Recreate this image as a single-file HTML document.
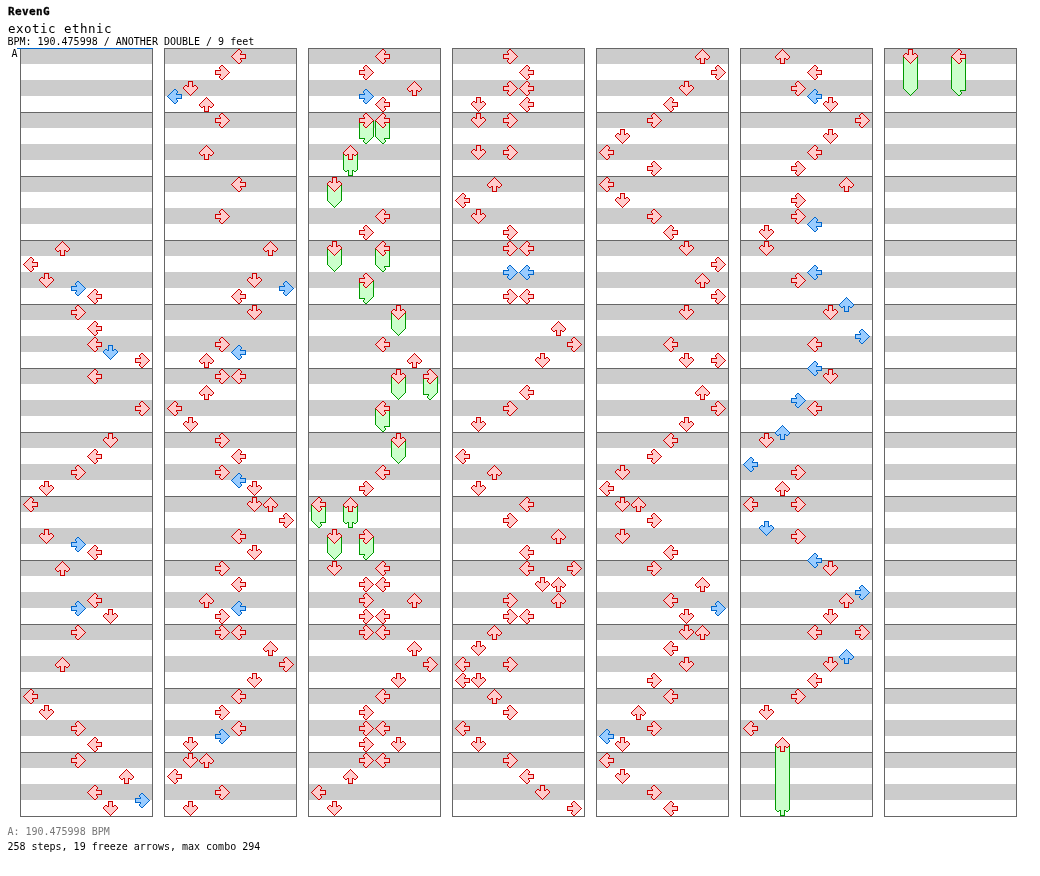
<!DOCTYPE html>
<html><head><meta charset="utf-8"><title>RevenG - exotic ethnic</title>
<style>
html,body{margin:0;padding:0;background:#fff;}
body{width:1040px;height:876px;position:relative;overflow:hidden;font-family:"DejaVu Sans Mono","Liberation Mono",monospace;color:#000;}
.t{position:absolute;white-space:pre;line-height:1;margin:0;font-size:10px;}
#t1{left:8px;top:6px;font-size:11px;font-weight:bold;letter-spacing:0.38px;-webkit-text-stroke:0.3px #000;}
#t2{left:8px;top:23px;font-size:12.5px;letter-spacing:0.475px;}
#t3{left:7.4px;top:37px;}
#t4{left:11.5px;top:49px;}
#t5{left:7.4px;top:827px;color:#777777;}
#t6{left:7.4px;top:842px;}
.col{position:absolute;top:48px;width:133px;height:769px;
background:
linear-gradient(90deg,#666 0,#666 1px,transparent 1px,transparent 132px,#666 132px,#666 133px),
repeating-linear-gradient(180deg,#666 0,#666 1px,transparent 1px,transparent 64px),
repeating-linear-gradient(180deg,#ccc 0,#ccc 16px,#fff 16px,#fff 32px);}
#bl{position:absolute;left:17px;top:48px;width:136px;height:1px;background:#06c;}
i{position:absolute;display:block;width:15px;height:15px;}
i::before{content:"";position:absolute;left:0;top:0;right:0;bottom:0;}
.r{background:#c00}.r::before{background:#fcc}
.b{background:#06c}.b::before{background:#9cf}
.g{background:#090}.g::before{background:#cfc}
.fb{background:#090}.fb::before{left:1px;right:1px;background:#cfc}
.L{clip-path:polygon(7px 0px,9px 0px,9px 1px,10px 1px,10px 2px,11px 2px,11px 4px,10px 4px,10px 5px,15px 5px,15px 10px,10px 10px,10px 11px,11px 11px,11px 13px,10px 13px,10px 14px,9px 14px,9px 15px,7px 15px,7px 14px,6px 14px,6px 13px,5px 13px,5px 12px,4px 12px,4px 11px,3px 11px,3px 10px,2px 10px,2px 9px,1px 9px,1px 8px,0px 8px,0px 7px,1px 7px,1px 6px,2px 6px,2px 5px,3px 5px,3px 4px,4px 4px,4px 3px,5px 3px,5px 2px,6px 2px,6px 1px,7px 1px)}.L::before{clip-path:polygon(7px 1px,9px 1px,9px 2px,10px 2px,10px 4px,9px 4px,9px 6px,14px 6px,14px 9px,9px 9px,9px 11px,10px 11px,10px 13px,9px 13px,9px 14px,7px 14px,7px 13px,6px 13px,6px 12px,5px 12px,5px 11px,4px 11px,4px 10px,3px 10px,3px 9px,2px 9px,2px 8px,1px 8px,1px 7px,2px 7px,2px 6px,3px 6px,3px 5px,4px 5px,4px 4px,5px 4px,5px 3px,6px 3px,6px 2px,7px 2px)}
.tL{clip-path:polygon(0px 7px,15px 7px,15px 10px,10px 10px,10px 11px,11px 11px,11px 13px,10px 13px,10px 14px,9px 14px,9px 15px,7px 15px,7px 14px,6px 14px,6px 13px,5px 13px,5px 12px,4px 12px,4px 11px,3px 11px,3px 10px,2px 10px,2px 9px,1px 9px,1px 8px,0px 8px)}.tL::before{clip-path:polygon(1px 7px,14px 7px,14px 9px,9px 9px,9px 11px,10px 11px,10px 13px,9px 13px,9px 14px,7px 14px,7px 13px,6px 13px,6px 12px,5px 12px,5px 11px,4px 11px,4px 10px,3px 10px,3px 9px,2px 9px,2px 8px,1px 8px)}
.R{clip-path:polygon(6px 0px,8px 0px,8px 1px,9px 1px,9px 2px,10px 2px,10px 3px,11px 3px,11px 4px,12px 4px,12px 5px,13px 5px,13px 6px,14px 6px,14px 7px,15px 7px,15px 8px,14px 8px,14px 9px,13px 9px,13px 10px,12px 10px,12px 11px,11px 11px,11px 12px,10px 12px,10px 13px,9px 13px,9px 14px,8px 14px,8px 15px,6px 15px,6px 14px,5px 14px,5px 13px,4px 13px,4px 11px,5px 11px,5px 10px,0px 10px,0px 5px,5px 5px,5px 4px,4px 4px,4px 2px,5px 2px,5px 1px,6px 1px)}.R::before{clip-path:polygon(6px 1px,8px 1px,8px 2px,9px 2px,9px 3px,10px 3px,10px 4px,11px 4px,11px 5px,12px 5px,12px 6px,13px 6px,13px 7px,14px 7px,14px 8px,13px 8px,13px 9px,12px 9px,12px 10px,11px 10px,11px 11px,10px 11px,10px 12px,9px 12px,9px 13px,8px 13px,8px 14px,6px 14px,6px 13px,5px 13px,5px 11px,6px 11px,6px 9px,1px 9px,1px 6px,6px 6px,6px 4px,5px 4px,5px 2px,6px 2px)}
.tR{clip-path:polygon(0px 7px,15px 7px,15px 8px,14px 8px,14px 9px,13px 9px,13px 10px,12px 10px,12px 11px,11px 11px,11px 12px,10px 12px,10px 13px,9px 13px,9px 14px,8px 14px,8px 15px,6px 15px,6px 14px,5px 14px,5px 13px,4px 13px,4px 11px,5px 11px,5px 10px,0px 10px)}.tR::before{clip-path:polygon(1px 7px,14px 7px,14px 8px,13px 8px,13px 9px,12px 9px,12px 10px,11px 10px,11px 11px,10px 11px,10px 12px,9px 12px,9px 13px,8px 13px,8px 14px,6px 14px,6px 13px,5px 13px,5px 11px,6px 11px,6px 9px,1px 9px)}
.U{clip-path:polygon(7px 0px,8px 0px,8px 1px,9px 1px,9px 2px,10px 2px,10px 3px,11px 3px,11px 4px,12px 4px,12px 5px,13px 5px,13px 6px,14px 6px,14px 7px,15px 7px,15px 9px,14px 9px,14px 10px,13px 10px,13px 11px,11px 11px,11px 10px,10px 10px,10px 15px,5px 15px,5px 10px,4px 10px,4px 11px,2px 11px,2px 10px,1px 10px,1px 9px,0px 9px,0px 7px,1px 7px,1px 6px,2px 6px,2px 5px,3px 5px,3px 4px,4px 4px,4px 3px,5px 3px,5px 2px,6px 2px,6px 1px,7px 1px)}.U::before{clip-path:polygon(7px 1px,8px 1px,8px 2px,9px 2px,9px 3px,10px 3px,10px 4px,11px 4px,11px 5px,12px 5px,12px 6px,13px 6px,13px 7px,14px 7px,14px 9px,13px 9px,13px 10px,11px 10px,11px 9px,9px 9px,9px 14px,6px 14px,6px 9px,4px 9px,4px 10px,2px 10px,2px 9px,1px 9px,1px 7px,2px 7px,2px 6px,3px 6px,3px 5px,4px 5px,4px 4px,5px 4px,5px 3px,6px 3px,6px 2px,7px 2px)}
.tU{clip-path:polygon(0px 7px,15px 7px,15px 9px,14px 9px,14px 10px,13px 10px,13px 11px,11px 11px,11px 10px,10px 10px,10px 15px,5px 15px,5px 10px,4px 10px,4px 11px,2px 11px,2px 10px,1px 10px,1px 9px,0px 9px)}.tU::before{clip-path:polygon(1px 7px,14px 7px,14px 9px,13px 9px,13px 10px,11px 10px,11px 9px,9px 9px,9px 14px,6px 14px,6px 9px,4px 9px,4px 10px,2px 10px,2px 9px,1px 9px)}
.D{clip-path:polygon(5px 0px,10px 0px,10px 5px,11px 5px,11px 4px,13px 4px,13px 5px,14px 5px,14px 6px,15px 6px,15px 8px,14px 8px,14px 9px,13px 9px,13px 10px,12px 10px,12px 11px,11px 11px,11px 12px,10px 12px,10px 13px,9px 13px,9px 14px,8px 14px,8px 15px,7px 15px,7px 14px,6px 14px,6px 13px,5px 13px,5px 12px,4px 12px,4px 11px,3px 11px,3px 10px,2px 10px,2px 9px,1px 9px,1px 8px,0px 8px,0px 6px,1px 6px,1px 5px,2px 5px,2px 4px,4px 4px,4px 5px,5px 5px)}.D::before{clip-path:polygon(6px 1px,9px 1px,9px 6px,11px 6px,11px 5px,13px 5px,13px 6px,14px 6px,14px 8px,13px 8px,13px 9px,12px 9px,12px 10px,11px 10px,11px 11px,10px 11px,10px 12px,9px 12px,9px 13px,8px 13px,8px 14px,7px 14px,7px 13px,6px 13px,6px 12px,5px 12px,5px 11px,4px 11px,4px 10px,3px 10px,3px 9px,2px 9px,2px 8px,1px 8px,1px 6px,2px 6px,2px 5px,4px 5px,4px 6px,6px 6px)}
.tD{clip-path:polygon(0px 7px,15px 7px,15px 8px,14px 8px,14px 9px,13px 9px,13px 10px,12px 10px,12px 11px,11px 11px,11px 12px,10px 12px,10px 13px,9px 13px,9px 14px,8px 14px,8px 15px,7px 15px,7px 14px,6px 14px,6px 13px,5px 13px,5px 12px,4px 12px,4px 11px,3px 11px,3px 10px,2px 10px,2px 9px,1px 9px,1px 8px,0px 8px)}.tD::before{clip-path:polygon(1px 7px,14px 7px,14px 8px,13px 8px,13px 9px,12px 9px,12px 10px,11px 10px,11px 11px,10px 11px,10px 12px,9px 12px,9px 13px,8px 13px,8px 14px,7px 14px,7px 13px,6px 13px,6px 12px,5px 12px,5px 11px,4px 11px,4px 10px,3px 10px,3px 9px,2px 9px,2px 8px,1px 8px)}
</style></head><body>
<div class="t" id="t1">RevenG</div>
<div class="t" id="t2">exotic ethnic</div>
<div class="t" id="t3">BPM: 190.475998 / ANOTHER DOUBLE / 9 feet</div>
<div class="t" id="t4">A</div>
<div class="col" style="left:20px">
<i class="r U" style="left:35px;top:193px"></i>
<i class="r L" style="left:3px;top:209px"></i>
<i class="r D" style="left:19px;top:225px"></i>
<i class="b R" style="left:51px;top:233px"></i>
<i class="r L" style="left:67px;top:241px"></i>
<i class="r R" style="left:51px;top:257px"></i>
<i class="r L" style="left:67px;top:273px"></i>
<i class="r L" style="left:67px;top:289px"></i>
<i class="b D" style="left:83px;top:297px"></i>
<i class="r R" style="left:115px;top:305px"></i>
<i class="r L" style="left:67px;top:321px"></i>
<i class="r R" style="left:115px;top:353px"></i>
<i class="r D" style="left:83px;top:385px"></i>
<i class="r L" style="left:67px;top:401px"></i>
<i class="r R" style="left:51px;top:417px"></i>
<i class="r D" style="left:19px;top:433px"></i>
<i class="r L" style="left:3px;top:449px"></i>
<i class="r D" style="left:19px;top:481px"></i>
<i class="b R" style="left:51px;top:489px"></i>
<i class="r L" style="left:67px;top:497px"></i>
<i class="r U" style="left:35px;top:513px"></i>
<i class="r L" style="left:67px;top:545px"></i>
<i class="b R" style="left:51px;top:553px"></i>
<i class="r D" style="left:83px;top:561px"></i>
<i class="r R" style="left:51px;top:577px"></i>
<i class="r U" style="left:35px;top:609px"></i>
<i class="r L" style="left:3px;top:641px"></i>
<i class="r D" style="left:19px;top:657px"></i>
<i class="r R" style="left:51px;top:673px"></i>
<i class="r L" style="left:67px;top:689px"></i>
<i class="r R" style="left:51px;top:705px"></i>
<i class="r U" style="left:99px;top:721px"></i>
<i class="r L" style="left:67px;top:737px"></i>
<i class="b R" style="left:115px;top:745px"></i>
<i class="r D" style="left:83px;top:753px"></i>
</div>
<div class="col" style="left:164px">
<i class="r L" style="left:67px;top:1px"></i>
<i class="r R" style="left:51px;top:17px"></i>
<i class="r D" style="left:19px;top:33px"></i>
<i class="b L" style="left:3px;top:41px"></i>
<i class="r U" style="left:35px;top:49px"></i>
<i class="r R" style="left:51px;top:65px"></i>
<i class="r U" style="left:35px;top:97px"></i>
<i class="r L" style="left:67px;top:129px"></i>
<i class="r R" style="left:51px;top:161px"></i>
<i class="r U" style="left:99px;top:193px"></i>
<i class="r D" style="left:83px;top:225px"></i>
<i class="b R" style="left:115px;top:233px"></i>
<i class="r L" style="left:67px;top:241px"></i>
<i class="r D" style="left:83px;top:257px"></i>
<i class="r R" style="left:51px;top:289px"></i>
<i class="b L" style="left:67px;top:297px"></i>
<i class="r U" style="left:35px;top:305px"></i>
<i class="r R" style="left:51px;top:321px"></i>
<i class="r L" style="left:67px;top:321px"></i>
<i class="r U" style="left:35px;top:337px"></i>
<i class="r L" style="left:3px;top:353px"></i>
<i class="r D" style="left:19px;top:369px"></i>
<i class="r R" style="left:51px;top:385px"></i>
<i class="r L" style="left:67px;top:401px"></i>
<i class="r R" style="left:51px;top:417px"></i>
<i class="b L" style="left:67px;top:425px"></i>
<i class="r D" style="left:83px;top:433px"></i>
<i class="r D" style="left:83px;top:449px"></i>
<i class="r U" style="left:99px;top:449px"></i>
<i class="r R" style="left:115px;top:465px"></i>
<i class="r L" style="left:67px;top:481px"></i>
<i class="r D" style="left:83px;top:497px"></i>
<i class="r R" style="left:51px;top:513px"></i>
<i class="r L" style="left:67px;top:529px"></i>
<i class="r U" style="left:35px;top:545px"></i>
<i class="b L" style="left:67px;top:553px"></i>
<i class="r R" style="left:51px;top:561px"></i>
<i class="r R" style="left:51px;top:577px"></i>
<i class="r L" style="left:67px;top:577px"></i>
<i class="r U" style="left:99px;top:593px"></i>
<i class="r R" style="left:115px;top:609px"></i>
<i class="r D" style="left:83px;top:625px"></i>
<i class="r L" style="left:67px;top:641px"></i>
<i class="r R" style="left:51px;top:657px"></i>
<i class="r L" style="left:67px;top:673px"></i>
<i class="b R" style="left:51px;top:681px"></i>
<i class="r D" style="left:19px;top:689px"></i>
<i class="r D" style="left:19px;top:705px"></i>
<i class="r U" style="left:35px;top:705px"></i>
<i class="r L" style="left:3px;top:721px"></i>
<i class="r R" style="left:51px;top:737px"></i>
<i class="r D" style="left:19px;top:753px"></i>
</div>
<div class="col" style="left:308px">
<i class="fb" style="left:51px;top:72px;height:16px"></i>
<i class="g tR" style="left:51px;top:81px"></i>
<i class="r R" style="left:51px;top:65px"></i>
<i class="fb" style="left:67px;top:72px;height:16px"></i>
<i class="g tL" style="left:67px;top:81px"></i>
<i class="r L" style="left:67px;top:65px"></i>
<i class="fb" style="left:35px;top:104px;height:16px"></i>
<i class="g tU" style="left:35px;top:113px"></i>
<i class="r U" style="left:35px;top:97px"></i>
<i class="fb" style="left:19px;top:136px;height:16px"></i>
<i class="g tD" style="left:19px;top:145px"></i>
<i class="r D" style="left:19px;top:129px"></i>
<i class="fb" style="left:19px;top:200px;height:16px"></i>
<i class="g tD" style="left:19px;top:209px"></i>
<i class="r D" style="left:19px;top:193px"></i>
<i class="fb" style="left:67px;top:200px;height:16px"></i>
<i class="g tL" style="left:67px;top:209px"></i>
<i class="r L" style="left:67px;top:193px"></i>
<i class="fb" style="left:51px;top:232px;height:16px"></i>
<i class="g tR" style="left:51px;top:241px"></i>
<i class="r R" style="left:51px;top:225px"></i>
<i class="fb" style="left:83px;top:264px;height:16px"></i>
<i class="g tD" style="left:83px;top:273px"></i>
<i class="r D" style="left:83px;top:257px"></i>
<i class="fb" style="left:83px;top:328px;height:16px"></i>
<i class="g tD" style="left:83px;top:337px"></i>
<i class="r D" style="left:83px;top:321px"></i>
<i class="fb" style="left:115px;top:328px;height:16px"></i>
<i class="g tR" style="left:115px;top:337px"></i>
<i class="r R" style="left:115px;top:321px"></i>
<i class="fb" style="left:67px;top:360px;height:16px"></i>
<i class="g tL" style="left:67px;top:369px"></i>
<i class="r L" style="left:67px;top:353px"></i>
<i class="fb" style="left:83px;top:392px;height:16px"></i>
<i class="g tD" style="left:83px;top:401px"></i>
<i class="r D" style="left:83px;top:385px"></i>
<i class="fb" style="left:3px;top:456px;height:16px"></i>
<i class="g tL" style="left:3px;top:465px"></i>
<i class="r L" style="left:3px;top:449px"></i>
<i class="fb" style="left:35px;top:456px;height:16px"></i>
<i class="g tU" style="left:35px;top:465px"></i>
<i class="r U" style="left:35px;top:449px"></i>
<i class="fb" style="left:19px;top:488px;height:16px"></i>
<i class="g tD" style="left:19px;top:497px"></i>
<i class="r D" style="left:19px;top:481px"></i>
<i class="fb" style="left:51px;top:488px;height:16px"></i>
<i class="g tR" style="left:51px;top:497px"></i>
<i class="r R" style="left:51px;top:481px"></i>
<i class="r L" style="left:67px;top:1px"></i>
<i class="r R" style="left:51px;top:17px"></i>
<i class="r U" style="left:99px;top:33px"></i>
<i class="b R" style="left:51px;top:41px"></i>
<i class="r L" style="left:67px;top:49px"></i>
<i class="r L" style="left:67px;top:161px"></i>
<i class="r R" style="left:51px;top:177px"></i>
<i class="r L" style="left:67px;top:289px"></i>
<i class="r U" style="left:99px;top:305px"></i>
<i class="r L" style="left:67px;top:417px"></i>
<i class="r R" style="left:51px;top:433px"></i>
<i class="r D" style="left:19px;top:513px"></i>
<i class="r L" style="left:67px;top:513px"></i>
<i class="r R" style="left:51px;top:529px"></i>
<i class="r L" style="left:67px;top:529px"></i>
<i class="r R" style="left:51px;top:545px"></i>
<i class="r U" style="left:99px;top:545px"></i>
<i class="r R" style="left:51px;top:561px"></i>
<i class="r L" style="left:67px;top:561px"></i>
<i class="r R" style="left:51px;top:577px"></i>
<i class="r L" style="left:67px;top:577px"></i>
<i class="r U" style="left:99px;top:593px"></i>
<i class="r R" style="left:115px;top:609px"></i>
<i class="r D" style="left:83px;top:625px"></i>
<i class="r L" style="left:67px;top:641px"></i>
<i class="r R" style="left:51px;top:657px"></i>
<i class="r R" style="left:51px;top:673px"></i>
<i class="r L" style="left:67px;top:673px"></i>
<i class="r R" style="left:51px;top:689px"></i>
<i class="r D" style="left:83px;top:689px"></i>
<i class="r R" style="left:51px;top:705px"></i>
<i class="r L" style="left:67px;top:705px"></i>
<i class="r U" style="left:35px;top:721px"></i>
<i class="r L" style="left:3px;top:737px"></i>
<i class="r D" style="left:19px;top:753px"></i>
</div>
<div class="col" style="left:452px">
<i class="r R" style="left:51px;top:1px"></i>
<i class="r L" style="left:67px;top:17px"></i>
<i class="r R" style="left:51px;top:33px"></i>
<i class="r L" style="left:67px;top:33px"></i>
<i class="r D" style="left:19px;top:49px"></i>
<i class="r L" style="left:67px;top:49px"></i>
<i class="r D" style="left:19px;top:65px"></i>
<i class="r R" style="left:51px;top:65px"></i>
<i class="r D" style="left:19px;top:97px"></i>
<i class="r R" style="left:51px;top:97px"></i>
<i class="r U" style="left:35px;top:129px"></i>
<i class="r L" style="left:3px;top:145px"></i>
<i class="r D" style="left:19px;top:161px"></i>
<i class="r R" style="left:51px;top:177px"></i>
<i class="r R" style="left:51px;top:193px"></i>
<i class="r L" style="left:67px;top:193px"></i>
<i class="b R" style="left:51px;top:217px"></i>
<i class="b L" style="left:67px;top:217px"></i>
<i class="r R" style="left:51px;top:241px"></i>
<i class="r L" style="left:67px;top:241px"></i>
<i class="r U" style="left:99px;top:273px"></i>
<i class="r R" style="left:115px;top:289px"></i>
<i class="r D" style="left:83px;top:305px"></i>
<i class="r L" style="left:67px;top:337px"></i>
<i class="r R" style="left:51px;top:353px"></i>
<i class="r D" style="left:19px;top:369px"></i>
<i class="r L" style="left:3px;top:401px"></i>
<i class="r U" style="left:35px;top:417px"></i>
<i class="r D" style="left:19px;top:433px"></i>
<i class="r L" style="left:67px;top:449px"></i>
<i class="r R" style="left:51px;top:465px"></i>
<i class="r U" style="left:99px;top:481px"></i>
<i class="r L" style="left:67px;top:497px"></i>
<i class="r L" style="left:67px;top:513px"></i>
<i class="r R" style="left:115px;top:513px"></i>
<i class="r D" style="left:83px;top:529px"></i>
<i class="r U" style="left:99px;top:529px"></i>
<i class="r R" style="left:51px;top:545px"></i>
<i class="r U" style="left:99px;top:545px"></i>
<i class="r R" style="left:51px;top:561px"></i>
<i class="r L" style="left:67px;top:561px"></i>
<i class="r U" style="left:35px;top:577px"></i>
<i class="r D" style="left:19px;top:593px"></i>
<i class="r L" style="left:3px;top:609px"></i>
<i class="r R" style="left:51px;top:609px"></i>
<i class="r L" style="left:3px;top:625px"></i>
<i class="r D" style="left:19px;top:625px"></i>
<i class="r U" style="left:35px;top:641px"></i>
<i class="r R" style="left:51px;top:657px"></i>
<i class="r L" style="left:3px;top:673px"></i>
<i class="r D" style="left:19px;top:689px"></i>
<i class="r R" style="left:51px;top:705px"></i>
<i class="r L" style="left:67px;top:721px"></i>
<i class="r D" style="left:83px;top:737px"></i>
<i class="r R" style="left:115px;top:753px"></i>
</div>
<div class="col" style="left:596px">
<i class="r U" style="left:99px;top:1px"></i>
<i class="r R" style="left:115px;top:17px"></i>
<i class="r D" style="left:83px;top:33px"></i>
<i class="r L" style="left:67px;top:49px"></i>
<i class="r R" style="left:51px;top:65px"></i>
<i class="r D" style="left:19px;top:81px"></i>
<i class="r L" style="left:3px;top:97px"></i>
<i class="r R" style="left:51px;top:113px"></i>
<i class="r L" style="left:3px;top:129px"></i>
<i class="r D" style="left:19px;top:145px"></i>
<i class="r R" style="left:51px;top:161px"></i>
<i class="r L" style="left:67px;top:177px"></i>
<i class="r D" style="left:83px;top:193px"></i>
<i class="r R" style="left:115px;top:209px"></i>
<i class="r U" style="left:99px;top:225px"></i>
<i class="r R" style="left:115px;top:241px"></i>
<i class="r D" style="left:83px;top:257px"></i>
<i class="r L" style="left:67px;top:289px"></i>
<i class="r D" style="left:83px;top:305px"></i>
<i class="r R" style="left:115px;top:305px"></i>
<i class="r U" style="left:99px;top:337px"></i>
<i class="r R" style="left:115px;top:353px"></i>
<i class="r D" style="left:83px;top:369px"></i>
<i class="r L" style="left:67px;top:385px"></i>
<i class="r R" style="left:51px;top:401px"></i>
<i class="r D" style="left:19px;top:417px"></i>
<i class="r L" style="left:3px;top:433px"></i>
<i class="r D" style="left:19px;top:449px"></i>
<i class="r U" style="left:35px;top:449px"></i>
<i class="r R" style="left:51px;top:465px"></i>
<i class="r D" style="left:19px;top:481px"></i>
<i class="r L" style="left:67px;top:497px"></i>
<i class="r R" style="left:51px;top:513px"></i>
<i class="r U" style="left:99px;top:529px"></i>
<i class="r L" style="left:67px;top:545px"></i>
<i class="b R" style="left:115px;top:553px"></i>
<i class="r D" style="left:83px;top:561px"></i>
<i class="r D" style="left:83px;top:577px"></i>
<i class="r U" style="left:99px;top:577px"></i>
<i class="r L" style="left:67px;top:593px"></i>
<i class="r D" style="left:83px;top:609px"></i>
<i class="r R" style="left:51px;top:625px"></i>
<i class="r L" style="left:67px;top:641px"></i>
<i class="r U" style="left:35px;top:657px"></i>
<i class="r R" style="left:51px;top:673px"></i>
<i class="b L" style="left:3px;top:681px"></i>
<i class="r D" style="left:19px;top:689px"></i>
<i class="r L" style="left:3px;top:705px"></i>
<i class="r D" style="left:19px;top:721px"></i>
<i class="r R" style="left:51px;top:737px"></i>
<i class="r L" style="left:67px;top:753px"></i>
</div>
<div class="col" style="left:740px">
<i class="fb" style="left:35px;top:696px;height:64px"></i>
<i class="g tU" style="left:35px;top:753px"></i>
<i class="r U" style="left:35px;top:689px"></i>
<i class="r U" style="left:35px;top:1px"></i>
<i class="r L" style="left:67px;top:17px"></i>
<i class="r R" style="left:51px;top:33px"></i>
<i class="b L" style="left:67px;top:41px"></i>
<i class="r D" style="left:83px;top:49px"></i>
<i class="r R" style="left:115px;top:65px"></i>
<i class="r D" style="left:83px;top:81px"></i>
<i class="r L" style="left:67px;top:97px"></i>
<i class="r R" style="left:51px;top:113px"></i>
<i class="r U" style="left:99px;top:129px"></i>
<i class="r R" style="left:51px;top:145px"></i>
<i class="r R" style="left:51px;top:161px"></i>
<i class="b L" style="left:67px;top:169px"></i>
<i class="r D" style="left:19px;top:177px"></i>
<i class="r D" style="left:19px;top:193px"></i>
<i class="b L" style="left:67px;top:217px"></i>
<i class="r R" style="left:51px;top:225px"></i>
<i class="b U" style="left:99px;top:249px"></i>
<i class="r D" style="left:83px;top:257px"></i>
<i class="b R" style="left:115px;top:281px"></i>
<i class="r L" style="left:67px;top:289px"></i>
<i class="b L" style="left:67px;top:313px"></i>
<i class="r D" style="left:83px;top:321px"></i>
<i class="b R" style="left:51px;top:345px"></i>
<i class="r L" style="left:67px;top:353px"></i>
<i class="b U" style="left:35px;top:377px"></i>
<i class="r D" style="left:19px;top:385px"></i>
<i class="b L" style="left:3px;top:409px"></i>
<i class="r R" style="left:51px;top:417px"></i>
<i class="r U" style="left:35px;top:433px"></i>
<i class="r L" style="left:3px;top:449px"></i>
<i class="r R" style="left:51px;top:449px"></i>
<i class="b D" style="left:19px;top:473px"></i>
<i class="r R" style="left:51px;top:481px"></i>
<i class="b L" style="left:67px;top:505px"></i>
<i class="r D" style="left:83px;top:513px"></i>
<i class="b R" style="left:115px;top:537px"></i>
<i class="r U" style="left:99px;top:545px"></i>
<i class="r D" style="left:83px;top:561px"></i>
<i class="r L" style="left:67px;top:577px"></i>
<i class="r R" style="left:115px;top:577px"></i>
<i class="b U" style="left:99px;top:601px"></i>
<i class="r D" style="left:83px;top:609px"></i>
<i class="r L" style="left:67px;top:625px"></i>
<i class="r R" style="left:51px;top:641px"></i>
<i class="r D" style="left:19px;top:657px"></i>
<i class="r L" style="left:3px;top:673px"></i>
</div>
<div class="col" style="left:884px">
<i class="fb" style="left:19px;top:8px;height:32px"></i>
<i class="g tD" style="left:19px;top:33px"></i>
<i class="r D" style="left:19px;top:1px"></i>
<i class="fb" style="left:67px;top:8px;height:32px"></i>
<i class="g tL" style="left:67px;top:33px"></i>
<i class="r L" style="left:67px;top:1px"></i>
</div>
<div id="bl"></div>
<div class="t" id="t5">A: 190.475998 BPM</div>
<div class="t" id="t6">258 steps, 19 freeze arrows, max combo 294</div>
</body></html>
